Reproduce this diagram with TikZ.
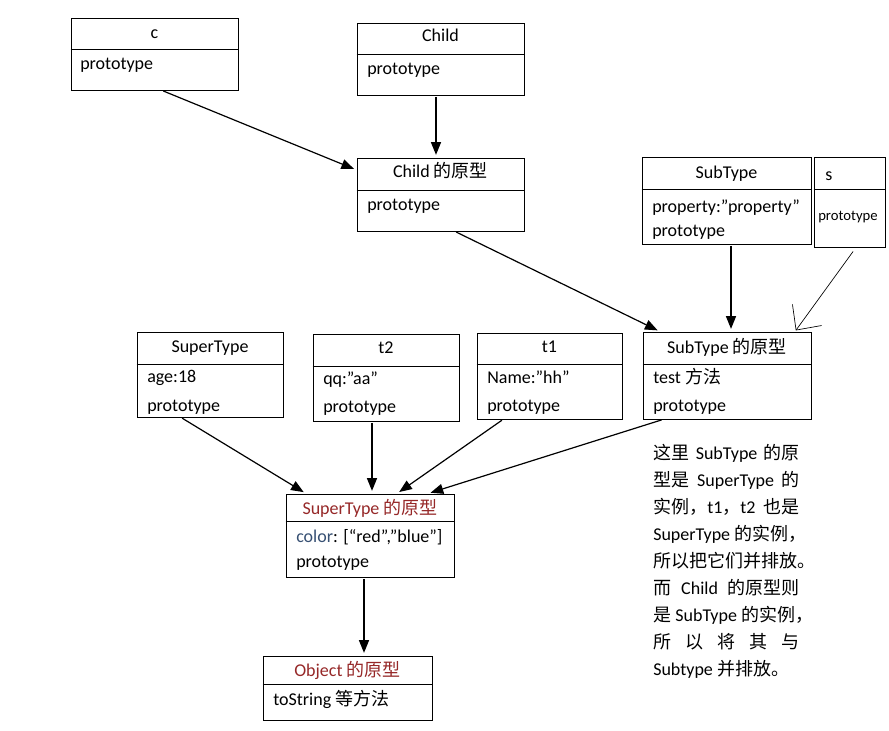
\documentclass[tikz,border=0pt]{standalone}
\usepackage{fontspec}
\setmainfont{Carlito}
\newfontfamily\cjk{Noto Sans CJK SC}
\usetikzlibrary{arrows.meta,fit}
\newcommand\zh[1]{{\cjk #1}}
\definecolor{protored}{RGB}{150,40,40}
\definecolor{keyblue}{RGB}{55,80,115}

\begin{document}
\begin{tikzpicture}[x=0.75pt,y=-0.75pt,
    box/.style={draw,line width=0.7pt,inner sep=0pt},
    txt/.style={inner sep=0pt,font=\fontsize{13.5}{16}\selectfont},
    arr/.style={-{Triangle[length=9.5pt,width=7.5pt]},line width=0.9pt,shorten >=2pt,shorten <=1pt},
    thinarr/.style={-{Straight Barb[length=14pt,width=27pt,line width=0.5pt]},line width=0.5pt,shorten <=3.75pt,shorten >=1pt}]
        \fill[white] (0,0) rectangle (889,731);
        \useasboundingbox (0,0) rectangle (889,731);

        \node[box,fit={(71,18) (238,90)}] (c) {};
        \draw (c.west |- 0,49) -- (c.east |- 0,49);
        \node[txt,anchor=base] (c-name) at (c.center |- 0,39) {c};
        \node[txt,anchor=base west] (c-proto) at (80,70) {prototype};

        \node[box,fit={(357,23) (524,95)}] (child) {};
        \draw (child.west |- 0,54) -- (child.east |- 0,54);
        \node[txt,anchor=base] (child-name) at (child.center |- 0,42) {Child};
        \node[txt,anchor=base west] (child-proto) at (367,75) {prototype};

        \node[box,fit={(357,158) (524,231)}] (childp) {};
        \draw (childp.west |- 0,190) -- (childp.east |- 0,190);
        \node[txt,anchor=base] (childp-name) at (childp.center |- 0,178) {Child \zh{的原型}};
        \node[txt,anchor=base west] (childp-proto) at (367,210) {prototype};

        \node[box,fit={(642,157) (811,244)}] (sub) {};
        \draw (sub.west |- 0,189) -- (sub.east |- 0,189);
        \node[txt,anchor=base] (sub-name) at (sub.center |- 0,179) {SubType};
        \node[txt,anchor=base west] (sub-prop) at (652,213) {property:”property”};
        \node[txt,anchor=base west] (sub-proto) at (652,237) {prototype};

        \node[box,fit={(814,157) (885,247)}] (s) {};
        \draw (s.west |- 0,189) -- (s.east |- 0,189);
        \node[txt,anchor=base west] (s-name) at (825,181) {s};
        \node[txt,anchor=base west,font=\fontsize{11}{13}\selectfont] (s-proto) at (818,220) {prototype};

        \node[box,fit={(643,332) (811,419)}] (subp) {};
        \draw (subp.west |- 0,364) -- (subp.east |- 0,364);
        \node[txt,anchor=base] (subp-name) at (subp.center |- 0,353) {SubType \zh{的原型}};
        \node[txt,anchor=base west] (subp-test) at (653,383) {test \zh{方法}};
        \node[txt,anchor=base west] (subp-proto) at (653,411) {prototype};

        \node[box,fit={(137,332) (283,417)}] (super) {};
        \draw (super.west |- 0,364) -- (super.east |- 0,364);
        \node[txt,anchor=base] (super-name) at (super.center |- 0,352) {SuperType};
        \node[txt,anchor=base west] (super-age) at (147,382) {age:18};
        \node[txt,anchor=base west] (super-proto) at (147,411) {prototype};

        \node[box,fit={(313,334) (459,421)}] (t2) {};
        \draw (t2.west |- 0,366) -- (t2.east |- 0,366);
        \node[txt,anchor=base] (t2-name) at (t2.center |- 0,353) {t2};
        \node[txt,anchor=base west] (t2-qq) at (323,384) {qq:”aa”};
        \node[txt,anchor=base west] (t2-proto) at (323,412) {prototype};

        \node[box,fit={(477,333) (622,419)}] (t1) {};
        \draw (t1.west |- 0,364) -- (t1.east |- 0,364);
        \node[txt,anchor=base] (t1-name) at (t1.center |- 0,352) {t1};
        \node[txt,anchor=base west] (t1-name2) at (487,383) {Name:”hh”};
        \node[txt,anchor=base west] (t1-proto) at (487,411) {prototype};

        \node[box,fit={(286,494) (454,577)}] (superp) {};
        \draw (superp.west |- 0,521) -- (superp.east |- 0,521);
        \node[txt,anchor=base,text=protored] (superp-name) at (superp.center |- 0,514) {SuperType \zh{的原型}};
        \node[txt,anchor=base west] (superp-color) at (296,542) {\textcolor{keyblue}{color}: [“red”,”blue”]};
        \node[txt,anchor=base west] (superp-proto) at (296,567) {prototype};

        \node[box,fit={(263,656) (432,720)}] (objp) {};
        \draw (objp.west |- 0,684) -- (objp.east |- 0,684);
        \node[txt,anchor=base,text=protored] (objp-name) at (objp.center |- 0,676) {Object \zh{的原型}};
        \node[txt,anchor=base west] (objp-tostr) at (273,705) {toString \zh{等方法}};

        \node[txt,anchor=north west,align=left,font=\fontsize{13.5}{20.25}\selectfont] (note) at (653,444) {%
            \makebox[110pt][s]{\zh{这里} SubType \zh{的原}}\\
            \makebox[110pt][s]{\zh{型是} SuperType \zh{的}}\\
            \makebox[110pt][s]{\zh{实例，}t1\zh{，}t2 \zh{也是}}\\
            SuperType \zh{的实例，}\\
            \zh{所以把它们并排放。}\\
            \makebox[110pt][s]{\zh{而} Child \zh{的原型则}}\\
            \zh{是} SubType \zh{的实例，}\\
            \makebox[110pt][s]{\zh{所 以 将 其 与}}\\
            Subtype \zh{并排放。}};

        \draw[arr] (c.south -| 162,0) -- (childp.west |- 0,170);
        \draw[arr] (child.south -| 436,0) -- (childp.north -| 436,0);
        \draw[arr] (childp.south -| 455,0) -- (subp.north -| 660,0);
        \draw[arr] (sub.south -| 731,0) -- (subp.north -| 731,0);
        \draw[thinarr] (s.south -| 856,0) -- (subp.north -| 795,0);
        \draw[arr] (super.south -| 181,0) -- (superp.north -| 306,0);
        \draw[arr] (t2.south -| 372,0) -- (superp.north -| 372,0);
        \draw[arr] (t1.south -| 503,0) -- (superp.north -| 397,0);
        \draw[arr] (subp.south -| 663,0) -- (superp.north -| 428,0);
        \draw[arr] (superp.south -| 364,0) -- (objp.north -| 364,0);
    \end{tikzpicture}
\end{document}
